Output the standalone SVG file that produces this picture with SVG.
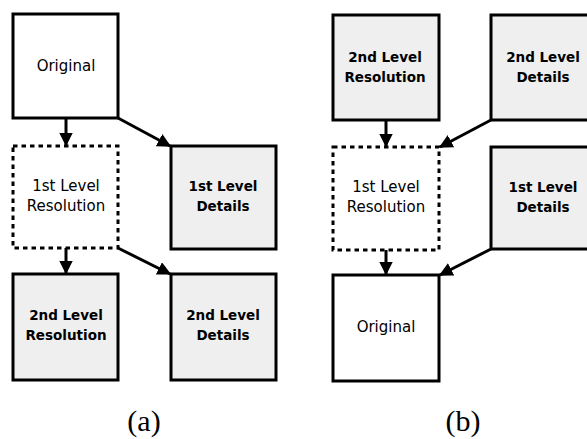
<svg xmlns="http://www.w3.org/2000/svg" width="587" height="439" viewBox="0 0 587 439">
<style>
.box{fill:#fff;stroke:#000;stroke-width:3}
.grey{fill:#efefef;stroke:#000;stroke-width:3}
.dash{fill:#fff;stroke:#000;stroke-width:3;stroke-dasharray:4.5 4}
.t{font-family:"DejaVu Sans",sans-serif;font-size:15px;text-anchor:middle;fill:#000}
.tb{font-family:"DejaVu Sans",sans-serif;font-size:13.5px;font-weight:bold;text-anchor:middle;fill:#000}
.lab{font-family:"Liberation Serif",serif;font-size:30px;text-anchor:middle;fill:#000}
.c{stroke:#000;stroke-width:3;fill:none;marker-end:url(#ah)}
</style>
<defs>
<marker id="ah" viewBox="0 0 10 10" refX="9" refY="5" markerWidth="4.6" markerHeight="4.6" markerUnits="strokeWidth" orient="auto">
<path d="M0,0 L10,5 L0,10 z" fill="#000"/>
</marker>
</defs>
<rect width="587" height="439" fill="#fff"/>
<g id="connectors">
<line class="c" x1="66" y1="118" x2="66" y2="145"/>
<line class="c" x1="118" y1="118" x2="170" y2="146"/>
<line class="c" x1="66" y1="248" x2="66" y2="273"/>
<line class="c" x1="118" y1="248" x2="170" y2="274"/>
<line class="c" x1="386" y1="120" x2="386" y2="146"/>
<line class="c" x1="491" y1="120" x2="440" y2="147"/>
<line class="c" x1="386" y1="250" x2="386" y2="274"/>
<line class="c" x1="491" y1="249" x2="440" y2="275"/>
</g>
<g id="a-original">
<rect class="box" x="13" y="14" width="105" height="104"/>
<text class="t" x="66" y="71">Original</text>
</g>
<g id="a-1st-res">
<rect class="dash" x="13" y="146" width="105" height="102"/>
<text class="t" x="66" y="191">1st Level</text>
<text class="t" x="66" y="211">Resolution</text>
</g>
<g id="a-1st-det">
<rect class="grey" x="171" y="146" width="105" height="103"/>
<text class="tb" x="223" y="191">1st Level</text>
<text class="tb" x="223" y="211">Details</text>
</g>
<g id="a-2nd-res">
<rect class="grey" x="13" y="274" width="105" height="106"/>
<text class="tb" x="66" y="320">2nd Level</text>
<text class="tb" x="66" y="340">Resolution</text>
</g>
<g id="a-2nd-det">
<rect class="grey" x="171" y="274" width="105" height="106"/>
<text class="tb" x="223" y="320">2nd Level</text>
<text class="tb" x="223" y="340">Details</text>
</g>
<g id="b-2nd-res">
<rect class="grey" x="333" y="15" width="106" height="105"/>
<text class="tb" x="385" y="62">2nd Level</text>
<text class="tb" x="385" y="82">Resolution</text>
</g>
<g id="b-2nd-det">
<rect class="grey" x="491" y="15" width="105" height="105"/>
<text class="tb" x="543" y="62">2nd Level</text>
<text class="tb" x="543" y="82">Details</text>
</g>
<g id="b-1st-res">
<rect class="dash" x="333" y="147" width="106" height="103"/>
<text class="t" x="386" y="192">1st Level</text>
<text class="t" x="386" y="212">Resolution</text>
</g>
<g id="b-1st-det">
<rect class="grey" x="491" y="147" width="105" height="102"/>
<text class="tb" x="543" y="192">1st Level</text>
<text class="tb" x="543" y="212">Details</text>
</g>
<g id="b-original">
<rect class="box" x="333" y="275" width="106" height="106"/>
<text class="t" x="386" y="332">Original</text>
</g>
<text class="lab" x="144" y="431">(a)</text>
<text class="lab" x="463" y="431">(b)</text>
</svg>
